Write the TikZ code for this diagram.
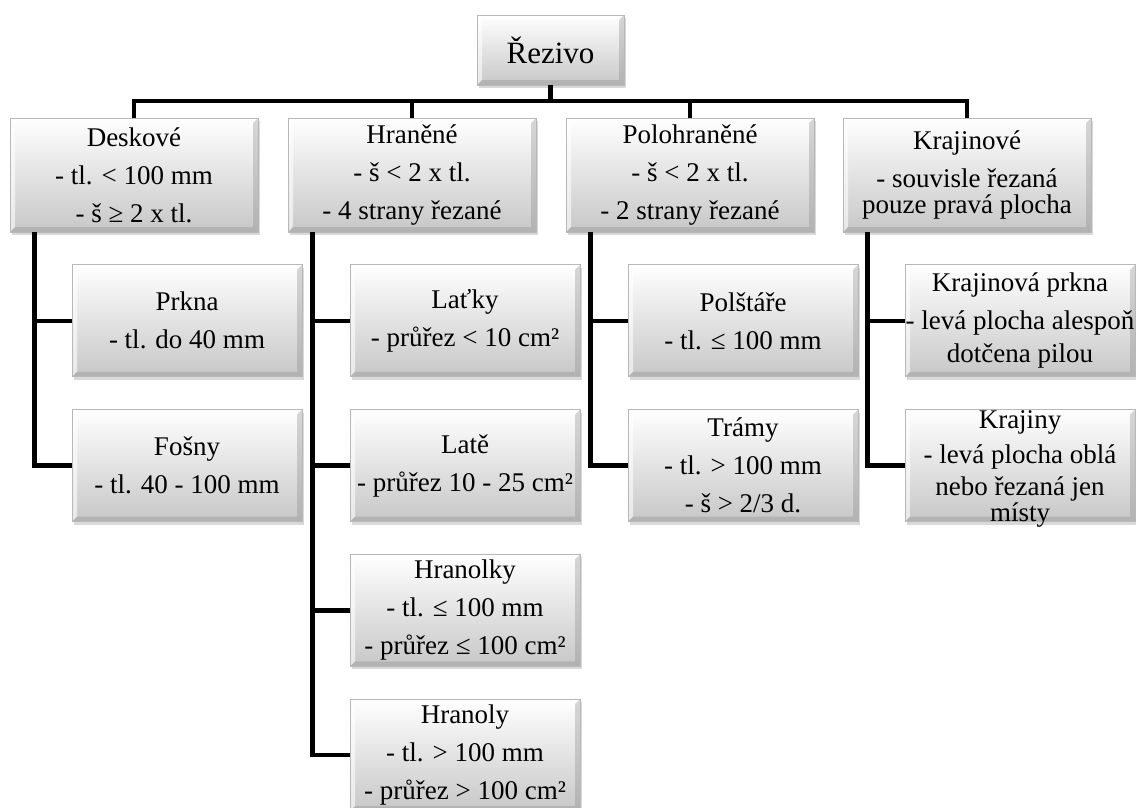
\documentclass[tikz,border=0pt]{standalone}
\usepackage{fontspec}
\setmainfont{Liberation Serif}
\usetikzlibrary{positioning,shadows}
\begin{document}
\begin{tikzpicture}[x=1pt, y=-1pt, node distance=32pt,
  font=\fontsize{27}{38}\selectfont,
  box/.style={rectangle, align=center, inner sep=0pt, top color=white, bottom color=black!22,
    draw=black!28, line width=0.8pt,
    drop shadow={shadow xshift=2pt, shadow yshift=-3pt, opacity=0.3},
    path picture={
      \fill[white, opacity=0.6] (path picture bounding box.south west) -- (path picture bounding box.north west)
        -- (path picture bounding box.north east) -- ([xshift=-5pt,yshift=-5pt]path picture bounding box.north east)
        -- ([xshift=5pt,yshift=-5pt]path picture bounding box.north west) -- ([xshift=5pt,yshift=5pt]path picture bounding box.south west) -- cycle;
      \fill[black!45, opacity=0.35] (path picture bounding box.south west) -- (path picture bounding box.south east)
        -- (path picture bounding box.north east) -- ([xshift=-5pt,yshift=-5pt]path picture bounding box.north east)
        -- ([xshift=-5pt,yshift=5pt]path picture bounding box.south east) -- ([xshift=5pt,yshift=5pt]path picture bounding box.south west) -- cycle;}},
  main/.style={box, minimum width=248pt, minimum height=114pt},
  kid/.style={box, minimum width=230pt, minimum height=112pt},
  line/.style={line width=4.5pt}]
\useasboundingbox (0,0) rectangle (1136,807);

\node[box, minimum width=147pt, minimum height=70pt, font=\fontsize{31}{38}\selectfont] (Rezivo) at (550.5,50) {Řezivo};

\node[main] (Deskove) at (134,175) {Deskové\\- tl. < 100 mm\\- š ≥ 2 x tl.};
\node[main] (Hranene) at (412,175) {Hraněné\\- š < 2 x tl.\\- 4 strany řezané};
\node[main] (Polohranene) at (690,175) {Polohraněné\\- š < 2 x tl.\\- 2 strany řezané};
\node[main] (Krajinove) at (967,175) {Krajinové\\- souvisle řezaná\\[-12pt]pouze pravá plocha};

\node[kid] (Prkna) [below=of Deskove, xshift=53pt] {Prkna\\- tl. do 40 mm};
\node[kid] (Fosny) [below=of Prkna] {Fošny\\- tl. 40 - 100 mm};

\node[kid] (Latky) [below=of Hranene, xshift=53pt] {Laťky\\- průřez < 10 cm²};
\node[kid] (Late) [below=of Latky] {Latě\\- průřez 10 - 25 cm²};
\node[kid] (Hranolky) [below=of Late] {Hranolky\\- tl. ≤ 100 mm\\- průřez ≤ 100 cm²};
\node[kid] (Hranoly) [below=of Hranolky] {Hranoly\\- tl. > 100 mm\\- průřez > 100 cm²};

\node[kid] (Polstare) [below=of Polohranene, xshift=53pt] {Polštáře\\- tl. ≤ 100 mm};
\node[kid] (Tramy) [below=of Polstare] {Trámy\\- tl. > 100 mm\\- š > 2/3 d.};

\node[kid] (KrajPrkna) [below=of Krajinove, xshift=53pt] {Krajinová prkna\\- levá plocha alespoň\\[-5pt]dotčena pilou};
\node[kid, text height=112pt, text depth=0pt] (Krajiny) [below=of KrajPrkna] {Krajiny\\[-3pt]- levá plocha oblá\\[-6pt]nebo řezaná jen\\[-12pt]místy};

\coordinate (Bar) at (550.5,101);
\foreach \n in {Deskove,Hranene,Polohranene,Krajinove}
  \draw[line] (Rezivo.south) |- (Bar -| \n.north) -- (\n.north);

\foreach \p/\k in {Deskove/Prkna, Deskove/Fosny, Hranene/Latky, Hranene/Late, Hranene/Hranolky, Hranene/Hranoly,
  Polohranene/Polstare, Polohranene/Tramy, Krajinove/KrajPrkna, Krajinove/Krajiny}
  \draw[line] ([xshift=25pt]\p.south west) |- (\k.west);

\end{tikzpicture}
\end{document}
